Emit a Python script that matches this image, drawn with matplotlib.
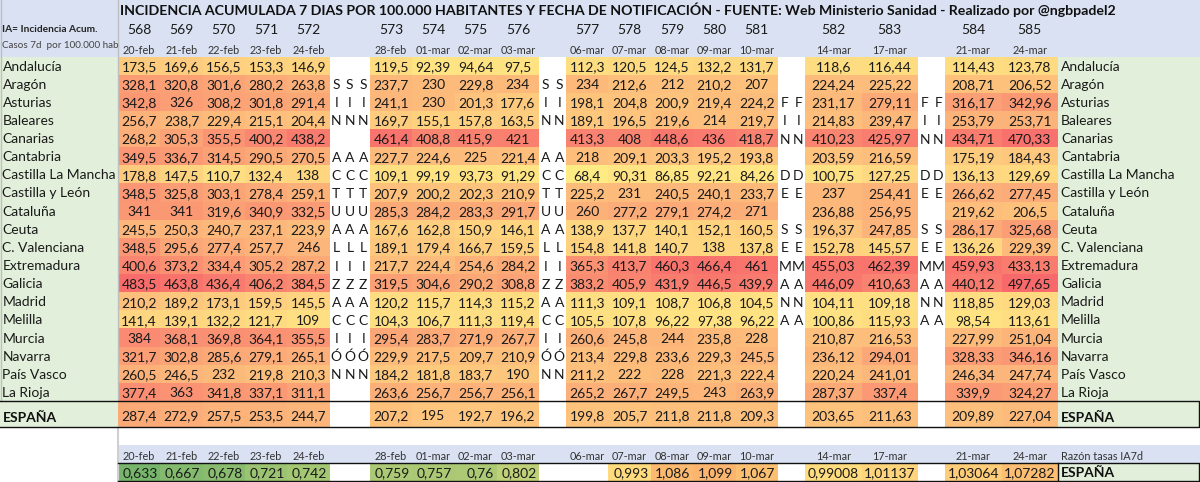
import numpy as np
import matplotlib
matplotlib.use("Agg")
import matplotlib.pyplot as plt
from matplotlib.colors import LinearSegmentedColormap, Normalize
from matplotlib.patches import Rectangle

plt.rcParams["font.family"] = ["Lato", "DejaVu Sans"]

regiones = ["Andalucía", "Aragón", "Asturias", "Baleares", "Canarias", "Cantabria",
            "Castilla La Mancha", "Castilla y León", "Cataluña", "Ceuta", "C. Valenciana",
            "Extremadura", "Galicia", "Madrid", "Melilla", "Murcia", "Navarra",
            "País Vasco", "La Rioja", "ESPAÑA"]

informes_1 = [568, 569, 570, 571, 572]
fechas_1 = ["20-feb", "21-feb", "22-feb", "23-feb", "24-feb"]
tabla_1 = [
    [173.5, 169.6, 156.5, 153.3, 146.9],
    [328.1, 320.8, 301.6, 280.2, 263.8],
    [342.8, 326, 308.2, 301.8, 291.4],
    [256.7, 238.7, 229.4, 215.1, 204.4],
    [268.2, 305.3, 355.5, 400.2, 438.2],
    [349.5, 336.7, 314.5, 290.5, 270.5],
    [178.8, 147.5, 110.7, 132.4, 138],
    [348.5, 325.8, 303.1, 278.4, 259.1],
    [341, 341, 319.6, 340.9, 332.5],
    [245.5, 250.3, 240.7, 237.1, 223.9],
    [348.5, 295.6, 277.4, 257.7, 246],
    [400.6, 373.2, 334.4, 305.2, 287.2],
    [483.5, 463.8, 436.4, 406.2, 384.5],
    [210.2, 189.2, 173.1, 159.5, 145.5],
    [141.4, 139.1, 132.2, 121.7, 109],
    [384, 368.1, 369.8, 364.1, 355.5],
    [321.7, 302.8, 285.6, 279.1, 265.1],
    [260.5, 246.5, 232, 219.8, 210.3],
    [377.4, 363, 341.8, 337.1, 311.1],
    [287.4, 272.9, 257.5, 253.5, 244.7],
]

informes_2 = [573, 574, 575, 576]
fechas_2 = ["28-feb", "01-mar", "02-mar", "03-mar"]
tabla_2 = [
    [119.5, 92.39, 94.64, 97.5],
    [237.7, 230, 229.8, 234],
    [241.1, 230, 201.3, 177.6],
    [169.7, 155.1, 157.8, 163.5],
    [461.4, 408.8, 415.9, 421],
    [227.7, 224.6, 225, 221.4],
    [109.1, 99.19, 93.73, 91.29],
    [207.9, 200.2, 202.3, 210.9],
    [285.3, 284.2, 283.3, 291.7],
    [167.6, 162.8, 150.9, 146.1],
    [189.1, 179.4, 166.7, 159.5],
    [217.7, 224.4, 254.6, 284.2],
    [319.5, 304.6, 290.2, 308.8],
    [120.2, 115.7, 114.3, 115.2],
    [104.3, 106.7, 111.3, 119.4],
    [295.4, 283.7, 271.9, 267.7],
    [229.9, 217.5, 209.7, 210.9],
    [184.2, 181.8, 183.7, 190],
    [263.6, 256.7, 256.7, 256.1],
    [207.2, 195, 192.7, 196.2],
]

informes_3 = [577, 578, 579, 580, 581]
fechas_3 = ["06-mar", "07-mar", "08-mar", "09-mar", "10-mar"]
tabla_3 = [
    [112.3, 120.5, 124.5, 132.2, 131.7],
    [234, 212.6, 212, 210.2, 207],
    [198.1, 204.8, 200.9, 219.4, 224.2],
    [189.1, 196.5, 219.6, 214, 219.7],
    [413.3, 408, 448.6, 436, 418.7],
    [218, 209.1, 203.3, 195.2, 193.8],
    [68.4, 90.31, 86.85, 92.21, 84.26],
    [225.2, 231, 240.5, 240.1, 233.7],
    [260, 277.2, 279.1, 274.2, 271],
    [138.9, 137.7, 140.1, 152.1, 160.5],
    [154.8, 141.8, 140.7, 138, 137.8],
    [365.3, 413.7, 460.3, 466.4, 461],
    [383.2, 405.9, 431.9, 446.5, 439.9],
    [111.3, 109.1, 108.7, 106.8, 104.5],
    [105.5, 107.8, 96.22, 97.38, 96.22],
    [260.6, 245.8, 244, 235.8, 228],
    [213.4, 229.8, 233.6, 229.3, 245.5],
    [211.2, 222, 228, 221.3, 222.4],
    [265.2, 267.7, 249.5, 243, 263.9],
    [199.8, 205.7, 211.8, 211.8, 209.3],
]

informes_4 = [582, 583]
fechas_4 = ["14-mar", "17-mar"]
tabla_4 = [
    [118.6, 116.44], [224.24, 225.22], [231.17, 279.11], [214.83, 239.47],
    [410.23, 425.97], [203.59, 216.59], [100.75, 127.25], [237, 254.41],
    [236.88, 256.95], [196.37, 247.85], [152.78, 145.57], [455.03, 462.39],
    [446.09, 410.63], [104.11, 109.18], [100.86, 115.93], [210.87, 216.53],
    [236.12, 294.01], [220.24, 241.01], [287.37, 337.4], [203.65, 211.63],
]

informes_5 = [584, 585]
fechas_5 = ["21-mar", "24-mar"]
tabla_5 = [
    [114.43, 123.78], [208.71, 206.52], [316.17, 342.96], [253.79, 253.71],
    [434.71, 470.33], [175.19, 184.43], [136.13, 129.69], [266.62, 277.45],
    [219.62, 206.5], [286.17, 325.68], [136.26, 229.39], [459.93, 433.13],
    [440.12, 497.65], [118.85, 129.03], [98.54, 113.61], [227.99, 251.04],
    [328.33, 346.16], [246.34, 247.74], [339.9, 324.27], [209.89, 227.04],
]

razon_1 = [0.633, 0.667, 0.678, 0.721, 0.742]
razon_2 = [0.759, 0.757, 0.76, 0.802]
razon_3 = [None, 0.993, 1.086, 1.099, 1.067]
razon_4 = [0.99008, 1.01137]
razon_5 = [1.03064, 1.07282]

# las columnas de letras se leen en vertical, fila a fila
sin_actualizacion = " SIN ACTUALIZACIÓN "
fin_de_semana = "  FIN DE SEMANA"

titulo = "INCIDENCIA ACUMULADA 7 DIAS POR 100.000 HABITANTES Y FECHA DE NOTIFICACIÓN - FUENTE: Web Ministerio Sanidad - Realizado por @ngbpadel2"

fig = plt.figure(figsize=(12, 4.82), dpi=100)
ax = fig.add_axes([0, 0, 1, 1])
ax.set_xlim(0, 1200)
ax.set_ylim(482, 0)
ax.axis("off")

AZUL = "#D9E1F2"
VERDE = "#E2EFDA"
TEXTO = "#1a1a1a"
GRIS = "#333333"

filas = np.append(np.linspace(56.5, 401, 20), 427)

bloques = [
    (np.linspace(118, 329.5, 6), informes_1, fechas_1, tabla_1, razon_1),
    (np.linspace(370, 539, 5), informes_2, fechas_2, tabla_2, razon_2),
    (np.linspace(566, 778, 6), informes_3, fechas_3, tabla_3, razon_3),
    (np.linspace(805, 918, 3), informes_4, fechas_4, tabla_4, razon_4),
    (np.linspace(945, 1058, 3), informes_5, fechas_5, tabla_5, razon_5),
]

cmap_ia = LinearSegmentedColormap.from_list("ia", ["#FFEB84", "#F8696B"])
norm_ia = Normalize(68.4, 497.65)
cmap_razon = LinearSegmentedColormap.from_list(
    "razon", [(0, "#76B56B"), (0.66, "#FFE984"), (1, "#FBAE6C")])
norm_razon = Normalize(0.633, 1.12)

# fondos
ax.add_patch(Rectangle((0, 0), 1200, 56.5, color=AZUL, lw=0, zorder=0))
ax.add_patch(Rectangle((0, 56.5), 118, 370.5, color=VERDE, lw=0, zorder=0))
ax.add_patch(Rectangle((1058, 56.5), 142, 370.5, color=VERDE, lw=0, zorder=0))
ax.add_patch(Rectangle((118, 445), 1082, 18, color=AZUL, lw=0, zorder=0))
ax.add_patch(Rectangle((1058, 463), 142, 18, color=VERDE, lw=0, zorder=0))

ax.text(120, 9.5, titulo, fontsize=10.2, fontweight="bold", color="#111111", va="center", ha="left")
ax.text(2, 30, "IA= Incidencia Acum.", fontsize=7.3, fontweight="bold", color="#222222", va="center")
ax.text(2, 45.5, "Casos 7d  por 100.000 hab", fontsize=7.1, color="#444444", va="center")

fila_razon = np.array([463, 481])

for columnas, informes, fechas, tabla, razon in bloques:
    datos = np.array(tabla, dtype=float)
    ax.pcolormesh(columnas, filas, datos, cmap=cmap_ia, norm=norm_ia, zorder=1)
    centros = (columnas[:-1] + columnas[1:]) / 2
    centros_y = (filas[:-1] + filas[1:]) / 2
    for j, x in enumerate(centros):
        ax.text(x, 29.5, str(informes[j]), fontsize=10, color=TEXTO, ha="center", va="center")
        ax.text(x, 50, fechas[j], fontsize=7.8, color=GRIS, ha="center", va="center")
        ax.text(x, 456.5, fechas[j], fontsize=7.8, color=GRIS, ha="center", va="center")
        for i, y in enumerate(centros_y):
            ax.text(x, y + 1.5 if i < 19 else 416, str(tabla[i][j]).replace(".", ","), fontsize=10,
                    color=TEXTO, ha="center", va="center", zorder=3)
    # fila de la razón de tasas
    valores = np.ma.masked_invalid(np.array([[np.nan if v is None else v for v in razon]], dtype=float))
    ax.pcolormesh(columnas, fila_razon, valores, cmap=cmap_razon, norm=norm_razon, zorder=1)
    for j, v in enumerate(razon):
        if v is not None:
            ax.text(columnas[j + 1] - 2.5, 473, str(v).replace(".", ","), fontsize=10,
                    color=TEXTO, ha="right", va="center", zorder=3)

# letras en vertical en los huecos
huecos = [
    (329.5, 370, 3, sin_actualizacion),
    (539, 566, 2, sin_actualizacion),
    (778, 805, 2, fin_de_semana),
    (918, 945, 2, fin_de_semana),
]
centros_y = (filas[:-2] + filas[1:-1]) / 2
for x0, x1, n, letras in huecos:
    paso = (x1 - x0) / n
    for i, letra in enumerate(letras):
        if letra == " ":
            continue
        for k in range(n):
            ax.text(x0 + paso * (k + 0.5), centros_y[i] + 1.5, letra, fontsize=10, color=TEXTO,
                    ha="center", va="center", zorder=3)

# nombres
for i, nombre in enumerate(regiones[:-1]):
    y = (filas[i] + filas[i + 1]) / 2 + 1
    ax.text(2.5, y, nombre, fontsize=10, color=TEXTO, ha="left", va="center")
    ax.text(1061, y, nombre, fontsize=10, color=TEXTO, ha="left", va="center")
ax.text(2.5, 418, regiones[-1], fontsize=10, fontweight="bold", color="#111111", va="center")
ax.text(1061, 418, regiones[-1], fontsize=10, fontweight="bold", color="#111111", va="center")
ax.text(1061, 456.5, "Razón tasas IA7d", fontsize=7.8, color=GRIS, va="center")
ax.text(1061, 473, regiones[-1], fontsize=10, fontweight="bold", color="#111111", va="center")

# bordes
ax.plot([0, 1199, 1199, 0], [401, 401, 427, 427], color="#111111", lw=1, zorder=4)
ax.plot([118, 1199, 1199, 118], [463, 463, 481, 481], color="#111111", lw=1, zorder=4)
ax.plot([1058, 1058], [463, 481], color="#111111", lw=1, zorder=4)
ax.plot([118, 118], [0, 401], color="#BFBFBF", lw=1, zorder=2)
ax.plot([118, 118], [427, 482], color="#D0D0D0", lw=1.5, zorder=2)
ax.plot([0.5, 0.5], [0, 401], color="#BFBFBF", lw=1, zorder=2)

fig.savefig("out.png", dpi=100)
